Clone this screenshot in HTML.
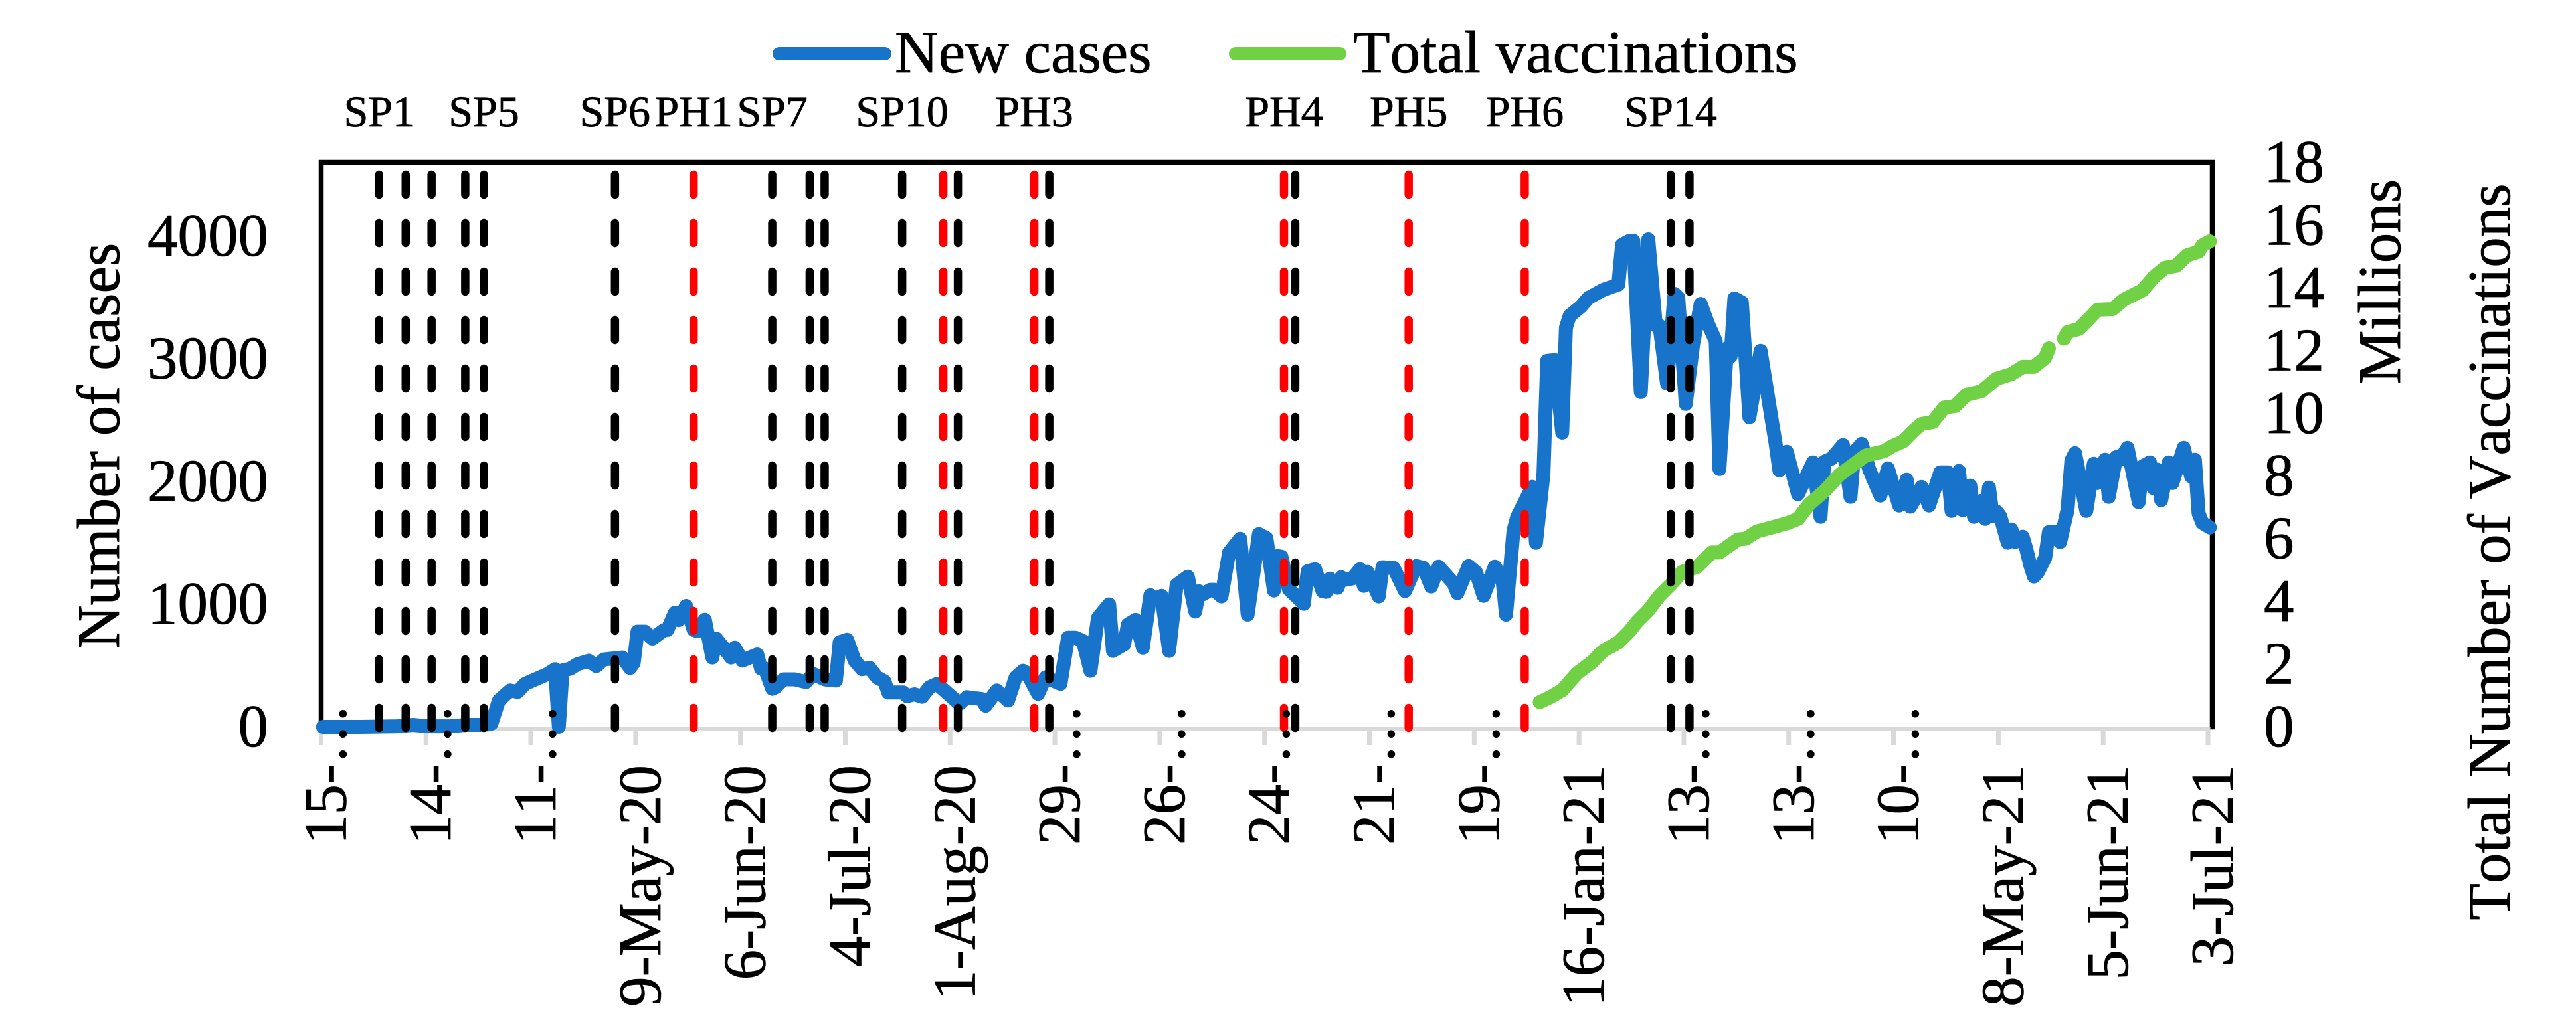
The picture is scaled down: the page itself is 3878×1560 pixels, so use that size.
<!DOCTYPE html>
<html lang="en">
<head>
<meta charset="utf-8">
<title>New cases and total vaccinations</title>
<style>
html,body{margin:0;padding:0;background:#fff;}
svg{display:block;}
text{font-family:"Liberation Serif","Times New Roman",serif;fill:#000;font-kerning:none;text-rendering:geometricPrecision;stroke:#000;stroke-width:0.8px;}
</style>
</head>
<body>
<svg id="chart" xmlns="http://www.w3.org/2000/svg" width="3878" height="1560" viewBox="0 0 3878 1560">
  <rect x="0" y="0" width="3878" height="1560" fill="#fff"/>
  <g id="grid-layer"></g>
  <g id="series-layer"></g>
  <g id="event-layer"></g>
  <g id="label-layer"></g>
  <g>
    <g>
      <line x1="1173" y1="81" x2="1332" y2="81" stroke="#1874CA" stroke-width="20" stroke-linecap="round"/>
      <text x="1347" y="109" font-size="91">New cases</text>
    </g>
    <g>
      <line x1="1860" y1="81" x2="2017" y2="81" stroke="#6FD143" stroke-width="20" stroke-linecap="round"/>
      <text x="2037" y="109" font-size="91">Total vaccinations</text>
    </g>
  </g>
  <text transform="translate(179 671.5) rotate(-90)" text-anchor="middle" font-size="91">Number of cases</text>
  <text transform="translate(3613 424) rotate(-90)" text-anchor="middle" font-size="91">Millions</text>
  <text transform="translate(3778 831) rotate(-90)" text-anchor="middle" font-size="91">Total Number of Vaccinations</text>
</svg>
<script>
// Days are counted from the first category, 15-Feb-20.
const caseDays = [0,10,20,24,28,34,38,42,44,45,47,49,50,52,54,56,60,62,63,64,66,68,71,73,75,80,82,83,84,86,88,91,92,94,95,97,99,100,102,104,105,107,109,110,112,116,117,118,120,121,123,126,129,131,134,137,138,140,142,144,146,148,150,151,155,156,158,160,162,164,166,170,172,176,177,180,183,185,187,188,191,193,197,199,201,203,205,207,210,211,214,215,217,219,221,222,224,226,228,231,233,234,235,237,238,240,242,245,247,250,252,254,255,256,258,262,263,265,267,268,269,271,272,273,275,277,278,279,282,283,286,289,292,294,296,298,302,303,306,308,310,313,315,316,318,319,323,324,326,327,329,331,332,333,336,338,342,346,347,349,350,352,354,356,357,359,361,362,364,366,368,370,372,373,375,376,377,379,381,382,384,387,388,389,391,394,398,400,401,403,406,408,409,411,413,414,416,418,421,423,424,427,429,432,434,435,437,438,440,441,443,444,445,446,447,448,450,451,452,454,455,456,457,458,460,461,463,464,466,467,468,471,473,474,476,477,479,480,482,485,486,488,489,490,491,493,494,497,499,500,501,502,504];
const caseValues = [0,0,5,16,5,5,16,16,20,27,215,270,296,285,350,377,430,470,0,460,473,511,538,495,549,565,480,520,776,776,720,787,790,930,870,985,790,780,873,565,720,645,565,645,540,590,475,475,310,325,387,387,365,430,387,377,689,710,540,470,480,403,370,280,280,250,265,245,323,350,296,188,242,226,172,296,215,403,457,440,269,403,350,726,726,700,457,888,998,619,672,834,872,645,1073,1040,1067,619,1157,1224,940,1105,1079,1117,1117,1063,1420,1533,915,1571,1538,1111,1392,1387,1122,1003,1268,1284,1105,1100,1208,1133,1220,1198,1210,1284,1149,1263,1063,1301,1295,1106,1311,1295,1144,1306,1170,1090,1311,1260,1068,1306,1214,914,1600,1711,1956,1500,2063,2983,2989,2398,3253,3350,3425,3495,3562,3604,3928,3961,3961,2728,3972,3270,3269,2798,3528,3500,2631,3122,3447,3280,3145,2101,3085,3020,3491,3458,2523,2700,3064,2495,2312,2090,2242,1896,2155,1712,2160,2187,2296,1874,2240,2306,2100,2025,1885,2107,1804,2015,1794,1955,1804,2074,2074,1760,2085,1766,1966,1712,1841,1695,1950,1717,1755,1717,1501,1609,1507,1550,1447,1320,1225,1257,1376,1587,1587,1506,1771,2171,2231,1760,2144,1987,2177,1874,2198,2177,2274,1831,2122,2155,1944,2096,1847,2155,1987,2274,2041,2177,1739,1663,1625];
const vaccineDays = [325,328,331,335,339,342,346,349,351,354,357,360,363,367,371,373,378,380,383,387,391,394,397,401,405,408,412,417,419,422,425,427,430,433,436,439,443,447,451,454,457,460,461,462,465,466,469,472,474,478,481,484,486,489,492,495,498,501,502,504];
const vaccineMillions = [0.79,0.96,1.17,1.71,2.07,2.43,2.69,3.05,3.35,3.71,4.18,4.54,4.94,5.10,5.56,5.56,5.98,6.00,6.23,6.36,6.49,6.63,7.10,7.51,8.03,8.29,8.65,8.79,8.94,9.10,9.46,9.66,9.72,10.18,10.23,10.59,10.70,11.10,11.25,11.48,11.48,11.77,12.07,null,12.38,12.59,12.69,13.05,13.30,13.32,13.62,13.80,13.92,14.34,14.64,14.70,15.04,15.15,15.35,15.48];
const blackEventDays = [15,22.1,29,38,43,78,120,130,134,154.7,169.6,194,259.7,360,365];
const redEventDays = [99,165.7,190,256.7,290,321];
const eventLabels = ["SP1","SP5","SP6","PH1","SP7","SP10","PH3","PH4","PH5","PH6","SP14"];
const eventLabelDays = [15,43,78,99,120,154.7,190,256.7,290,321,360];
const xTickLabels = ["15-…","14-…","11-…","9-May-20","6-Jun-20","4-Jul-20","1-Aug-20","29-…","26-…","24-…","21-…","19-…","16-Jan-21","13-…","13-…","10-…","8-May-21","5-Jun-21","3-Jul-21"];
const xTickDays = [0,28,56,84,112,140,168,196,224,252,280,308,336,364,392,420,448,476,504];
const leftTicks = [0,1000,2000,3000,4000];
const rightTicks = [0,2,4,6,8,10,12,14,16,18];

const NS = "http://www.w3.org/2000/svg";
const plotLeft = 483.5, plotRight = 3330.5, plotTop = 244.5, plotBottom = 1094.5;
const casesMax = 4600, vaccineMax = 18, categoryCount = 505;
const categoryWidth = (3324 - 483.4) / 504;

function xTick(day){ return 483.4 + day * categoryWidth; }
function xPoint(day){ return xTick(day + 0.5); }
function yCases(v){ return plotBottom - (v / casesMax) * (plotBottom - plotTop); }
function yVaccine(v){ return plotBottom - (v / vaccineMax) * (plotBottom - plotTop); }

function make(tag, attrs, parent){
  const el = document.createElementNS(NS, tag);
  for (const k in attrs) el.setAttribute(k, attrs[k]);
  parent.appendChild(el);
  return el;
}
function linePath(days, values, yFn){
  let d = "", pen = false;
  for (let i = 0; i < days.length; i++){
    if (values[i] === null){ pen = false; continue; }
    d += (pen ? "L" : "M") + xPoint(days[i]).toFixed(1) + " " + yFn(values[i]).toFixed(1);
    pen = true;
  }
  return d;
}

const grid = document.getElementById("grid-layer");
const series = document.getElementById("series-layer");
const events = document.getElementById("event-layer");
const labels = document.getElementById("label-layer");

// frame
const frame = make("path", {d:"M"+plotLeft+" "+plotBottom+"V"+plotTop+"H"+plotRight+"V"+plotBottom, fill:"none", stroke:"#000", "stroke-width":7.5, "stroke-linecap":"square"}, grid);



// x axis
const xAxis = make("line", {x1:plotLeft-3, x2:plotRight-3, y1:plotBottom+3, y2:plotBottom+3, stroke:"#D9D9D9", "stroke-width":6}, grid);



xTickDays.forEach(function(day, i){
  const tx = xTick(day);
  const tick = make("line", {x1:tx, x2:tx, y1:plotBottom, y2:1122, stroke:"#D9D9D9", "stroke-width":7}, grid);
  
  
  const truncated = xTickLabels[i].indexOf("…") >= 0;
  const anchorY = truncated ? 1272 : 1152;
  const label = make("text", {transform:"translate("+(tx+37).toFixed(1)+" "+anchorY+") rotate(-90)", "text-anchor":truncated?"start":"end", "font-size":91}, labels);
  label.textContent = xTickLabels[i];
  
  
});

// y axes labels
leftTicks.forEach(function(v){
  const label = make("text", {x:404, y:(yCases(v)+29.5).toFixed(1), "text-anchor":"end", "font-size":91}, labels);
  label.textContent = String(v);
  
  
});
rightTicks.forEach(function(v){
  const label = make("text", {x:3408, y:(yVaccine(v)+29.5).toFixed(1), "font-size":91}, labels);
  label.textContent = String(v);
  
  
});

// series
const casesLine = make("path", {d:linePath(caseDays, caseValues, yCases), fill:"none", stroke:"#1874CA", "stroke-width":21, "stroke-linejoin":"round", "stroke-linecap":"round"}, series);


const vaccineLine = make("path", {d:linePath(vaccineDays, vaccineMillions, yVaccine), fill:"none", stroke:"#6FD143", "stroke-width":21, "stroke-linejoin":"round", "stroke-linecap":"round"}, series);



// event markers
blackEventDays.forEach(function(day){
  const x = xPoint(day);
  const mark = make("line", {x1:x, x2:x, y1:263, y2:1096, stroke:"#000", "stroke-width":12.5, "stroke-linecap":"round", "stroke-dasharray":"30 43"}, events);
  
  
});
redEventDays.forEach(function(day){
  const x = xPoint(day);
  const mark = make("line", {x1:x, x2:x, y1:263, y2:1096, stroke:"#FF0000", "stroke-width":12.5, "stroke-linecap":"round", "stroke-dasharray":"30 43"}, events);
  
  
});
eventLabels.forEach(function(name, i){
  const label = make("text", {x:xPoint(eventLabelDays[i]).toFixed(1), y:190, "text-anchor":"middle", "font-size":66}, labels);
  label.textContent = name;
  
  
});
</script>
</body>
</html>
